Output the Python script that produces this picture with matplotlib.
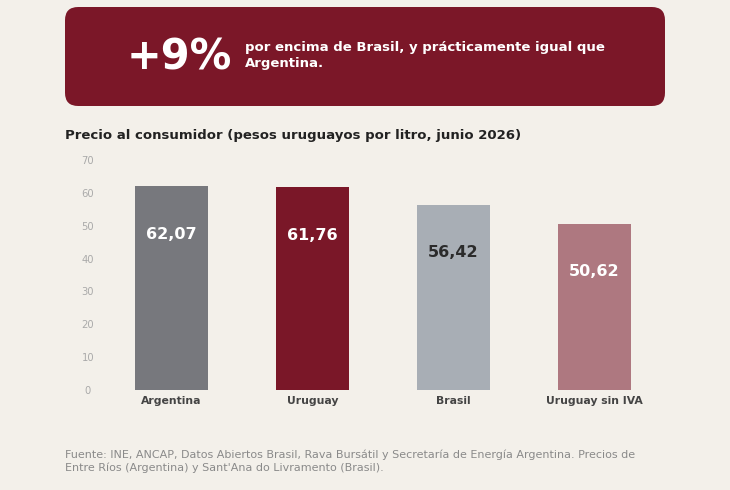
import matplotlib
matplotlib.use("Agg")
import matplotlib.pyplot as plt
from matplotlib.patches import FancyBboxPatch

categories = ["Argentina", "Uruguay", "Brasil", "Uruguay sin IVA"]
values = [62.07, 61.76, 56.42, 50.62]
value_labels = ["62,07", "61,76", "56,42", "50,62"]
bar_colors = ["#77787d", "#7a1728", "#a8aeb5", "#ae7880"]
label_colors = ["white", "white", "#2b2b2b", "white"]
yticks = [0, 10, 20, 30, 40, 50, 60, 70]

BG = "#f3f0ea"
plt.rcParams['font.family'] = ['DejaVu Sans']

W, H = 730, 490
fig = plt.figure(figsize=(W / 100, H / 100), dpi=100, facecolor=BG)

def fx(px):
    return px / W

def fy(py):
    return 1 - py / H

# Banner
banner = FancyBboxPatch((fx(65), fy(106)), fx(665) - fx(65), fy(7) - fy(106),
                        boxstyle="round,pad=0,rounding_size=0.018",
                        transform=fig.transFigure, facecolor="#7b1728",
                        edgecolor="none", mutation_aspect=W / H)
fig.patches.append(banner)
fig.text(fx(127), fy(58), "+9%", color="white", fontsize=30, fontweight="bold",
         ha="left", va="center")
fig.text(fx(245), fy(56), "por encima de Brasil, y prácticamente igual que\nArgentina.",
         color="white", fontsize=9.5, fontweight="bold", ha="left", va="center",
         linespacing=1.3)

# Title
fig.text(fx(65), fy(135), "Precio al consumidor (pesos uruguayos por litro, junio 2026)",
         color="#222222", fontsize=9.5, fontweight="bold", ha="left", va="center")

# Axes
ax = fig.add_axes([fx(101), fy(390), fx(665) - fx(101), fy(160) - fy(390)])
ax.set_facecolor(BG)
x = list(range(len(categories)))
ax.bar(x, values, width=0.518, color=bar_colors)
ax.set_xlim(-0.5, len(categories) - 0.5)
ax.set_ylim(0, 70)
ax.set_yticks(yticks)
ax.set_yticklabels([str(t) for t in yticks])
ax.tick_params(axis="y", length=0, pad=9.4, labelsize=7.2, labelcolor="#aaaaaa")
for lab in ax.get_yticklabels():
    lab.set_horizontalalignment("center")
ax.set_xticks(x)
ax.set_xticklabels(categories)
ax.tick_params(axis="x", length=0, pad=4, labelsize=7.8, labelcolor="#444444")
for lab in ax.get_xticklabels():
    lab.set_fontweight("bold")
for s in ax.spines.values():
    s.set_visible(False)

for xi, v, t, c in zip(x, values, value_labels, label_colors):
    ax.annotate(t, (xi, v), xytext=(0, -34.6), textcoords="offset points",
                ha="center", va="center", color=c, fontsize=11.5, fontweight="bold")

# Footer
fig.text(fx(65), fy(461), "Fuente: INE, ANCAP, Datos Abiertos Brasil, Rava Bursátil y Secretaría de Energía Argentina. Precios de\nEntre Ríos (Argentina) y Sant'Ana do Livramento (Brasil).",
         color="#8a8a8a", fontsize=8.0, ha="left", va="center", linespacing=1.25)

fig.savefig("out.png", dpi=100, facecolor=BG)
